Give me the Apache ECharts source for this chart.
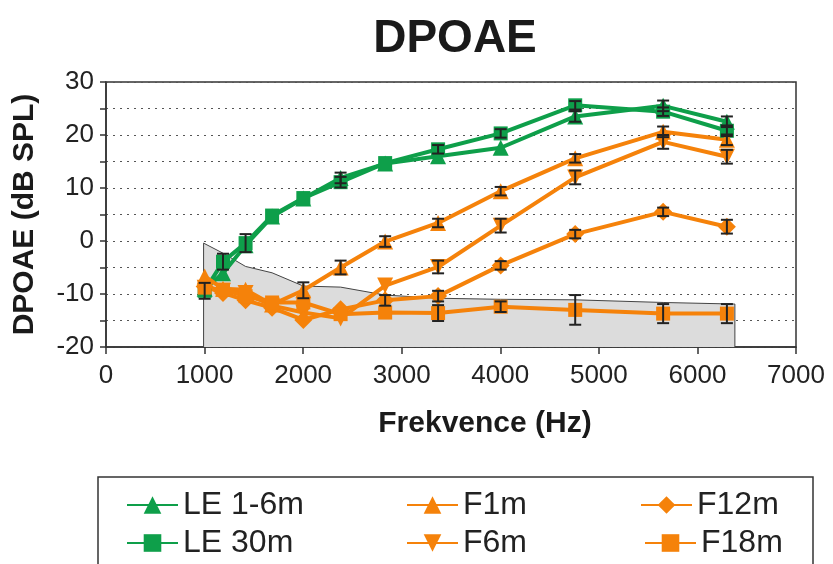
<!DOCTYPE html>
<html>
<head>
<meta charset="utf-8">
<script src="https://cdn.jsdelivr.net/npm/echarts@6/dist/echarts.min.js"></script>
<style>
  html, body { margin: 0; padding: 0; background: #fff; }
  #chart { width: 833px; height: 564px; }
</style>
</head>
<body>
<div id="chart"></div>
<script>
// Stimulus frequencies (Hz)
var freqs = [1001, 1187, 1416, 1685, 2002, 2380, 2832, 3369, 4004, 4760, 5652, 6299];

// DPOAE levels (dB SPL)
var le16  = [-9.0, -6.1, -0.8, 4.6, 8.0, 11.9, 14.6, 16.0, 17.6, 23.5, 25.5, 22.5];
var le30  = [-9.4, -3.9, -0.4, 4.8, 8.1, 11.1, 14.7, 17.3, 20.3, 25.6, 24.4, 20.8];
var f1m   = [-6.7, -9.0, -9.2, -12.0, -9.3, -5.0, -0.1, 3.4, 9.4, 15.6, 20.6, 19.1];
var f6m   = [-8.8, -9.4, -9.8, -12.2, -13.5, -14.6, -8.4, -4.9, 2.9, 12.0, 18.7, 15.9];
var f12m  = [-8.6, -9.8, -11.2, -12.6, -14.9, -12.9, -11.2, -10.4, -4.6, 1.3, 5.5, 2.7];
var f18m  = [-8.8, -9.2, -10.4, -11.6, -11.6, -13.8, -13.5, -13.6, -12.4, -13.0, -13.7, -13.7];

// Error bar half-widths (dB), null where no bar is drawn
var le16Err = [null, null, null, null, null, 1.0, null, null, null, 1.0, 1.0, 1.0];
var le30Err = [1.5, 1.5, 1.7, null, null, 1.0, null, 0.8, 0.8, 0.8, 0.8, 1.0];
var f1mErr  = [null, null, null, null, 1.5, 1.3, 1.0, 0.8, 0.8, 0.8, 1.0, 1.0];
var f6mErr  = [null, null, null, null, null, null, null, 1.2, 1.3, 1.3, 1.3, 1.3];
var f12mErr = [null, null, null, null, null, null, 1.0, 1.0, 0.8, 0.8, 0.8, 1.3];
var f18mErr = [null, null, null, null, null, null, null, 1.5, 1.0, 2.8, 1.8, 1.8];

// Noise floor (frequency, level)
var noiseFreqs = [990, 990, 1187, 1416, 1685, 2002, 2380, 2832, 3369, 4004, 4760, 5652, 6380, 6380];
var noiseLevels = [-20, -0.4, -2.3, -4.8, -6.0, -8.5, -8.7, -10.2, -10.8, -11.0, -11.1, -11.6, -11.9, -20];

var xTicks = [0, 1000, 2000, 3000, 4000, 5000, 6000, 7000];
var yMin = -20, yMax = 30;

var GREEN = '#0E9F4A';
var ORANGE = '#F5820A';
var FONT = '"Liberation Sans", Arial, sans-serif';

function pairs(xs, ys) {
  return xs.map(function (x, i) { return [x, ys[i]]; });
}

function errItems(vals, errs) {
  var out = [];
  vals.forEach(function (v, i) {
    if (errs[i] != null) out.push([freqs[i], v - errs[i], v + errs[i]]);
  });
  return out;
}

function lineSeries(name, vals, color, symbol, size) {
  return {
    name: name,
    type: 'line',
    data: pairs(freqs, vals),
    symbol: symbol,
    symbolSize: size,
    showSymbol: true,
    lineStyle: { color: color, width: 4 },
    itemStyle: { color: color },
    z: 3
  };
}

var errData = []
  .concat(errItems(le16, le16Err))
  .concat(errItems(le30, le30Err))
  .concat(errItems(f1m, f1mErr))
  .concat(errItems(f6m, f6mErr))
  .concat(errItems(f12m, f12mErr))
  .concat(errItems(f18m, f18mErr));

var chart = echarts.init(document.getElementById('chart'), null, { renderer: 'canvas' });

function legendAt(left, top, names) {
  return {
    orient: 'vertical',
    left: left,
    top: top,
    padding: 0,
    itemWidth: 51,
    itemHeight: 22,
    itemGap: 6,
    lineStyle: { width: 2 },
    textStyle: { fontFamily: FONT, fontSize: 32, color: '#222', lineHeight: 32 },
    selectedMode: false,
    data: names
  };
}

var option = {
  backgroundColor: '#fff',
  animation: false,
  title: {
    text: 'DPOAE',
    left: 450,
    top: 11,
    textAlign: 'center',
    textStyle: { fontFamily: FONT, fontSize: 46, fontWeight: 'bold', color: '#1a1a1a' }
  },
  grid: { left: 106, right: 37, top: 82, bottom: 217, show: true, borderColor: '#333', borderWidth: 1.5, backgroundColor: 'transparent' },
  legend: [
    legendAt(126, 489, ['LE 1-6m', 'LE 30m']),
    legendAt(406, 489, ['F1m', 'F6m']),
    legendAt(640, 489, ['F12m']),
    legendAt(644, 527, ['F18m'])
  ],
  xAxis: {
    type: 'value',
    min: xTicks[0],
    max: xTicks[xTicks.length - 1],
    interval: 1000,
    name: 'Frekvence (Hz)',
    nameLocation: 'middle',
    nameGap: 62,
    nameTextStyle: { fontFamily: FONT, fontSize: 30, fontWeight: 'bold', color: '#1a1a1a', padding: [0, 0, 0, 68] },
    axisLine: { onZero: false, lineStyle: { color: '#333', width: 1.5 } },
    axisTick: { show: true, inside: false, length: 7, lineStyle: { color: '#333', width: 1.5 } },
    axisLabel: {
      fontFamily: FONT, fontSize: 26, color: '#222', margin: 16,
      formatter: function (v) { return String(v); }
    },
    splitLine: { show: false }
  },
  yAxis: {
    type: 'value',
    min: yMin,
    max: yMax,
    interval: 5,
    name: 'DPOAE (dB SPL)',
    nameLocation: 'middle',
    nameGap: 66,
    nameTextStyle: { fontFamily: FONT, fontSize: 30, fontWeight: 'bold', color: '#1a1a1a' },
    axisLine: { show: true, lineStyle: { color: '#333', width: 1.5 } },
    axisTick: { show: true, inside: false, length: 6, lineStyle: { color: '#333', width: 1.5 } },
    axisLabel: {
      fontFamily: FONT, fontSize: 26, color: '#222', margin: 12,
      formatter: function (v) { return v % 10 === 0 ? String(v) : ''; }
    },
    splitLine: { show: true, lineStyle: { color: '#555', type: [2, 5], width: 1.2 } }
  },
  graphic: [{
    type: 'rect',
    shape: { x: 98, y: 477, width: 715, height: 120 },
    style: { fill: 'none', stroke: '#333', lineWidth: 1.5 },
    silent: true
  }],
  series: [
    {
      name: 'noise',
      type: 'line',
      data: pairs(noiseFreqs, noiseLevels),
      symbol: 'none',
      lineStyle: { color: '#444', width: 1 },
      areaStyle: { color: '#DCDCDC', opacity: 1, origin: 'start' },
      z: 1,
      silent: true
    },
    lineSeries('LE 1-6m', le16, GREEN, 'triangle', 16),
    lineSeries('LE 30m', le30, GREEN, 'rect', 14),
    lineSeries('F1m', f1m, ORANGE, 'triangle', 16),
    Object.assign(lineSeries('F6m', f6m, ORANGE, 'triangle', 16), { symbolRotate: 180 }),
    lineSeries('F12m', f12m, ORANGE, 'diamond', 18),
    lineSeries('F18m', f18m, ORANGE, 'rect', 14),
    {
      name: 'errors',
      type: 'custom',
      data: errData,
      z: 5,
      silent: true,
      renderItem: function (params, api) {
        var x = api.value(0);
        var lo = api.coord([x, api.value(1)]);
        var hi = api.coord([x, api.value(2)]);
        var cap = 6;
        var style = { stroke: '#222', lineWidth: 2 };
        return {
          type: 'group',
          children: [
            { type: 'line', shape: { x1: lo[0], y1: lo[1], x2: hi[0], y2: hi[1] }, style: style },
            { type: 'line', shape: { x1: lo[0] - cap, y1: lo[1], x2: lo[0] + cap, y2: lo[1] }, style: style },
            { type: 'line', shape: { x1: hi[0] - cap, y1: hi[1], x2: hi[0] + cap, y2: hi[1] }, style: style }
          ]
        };
      }
    }
  ]
};

chart.setOption(option);
</script>
</body>
</html>
